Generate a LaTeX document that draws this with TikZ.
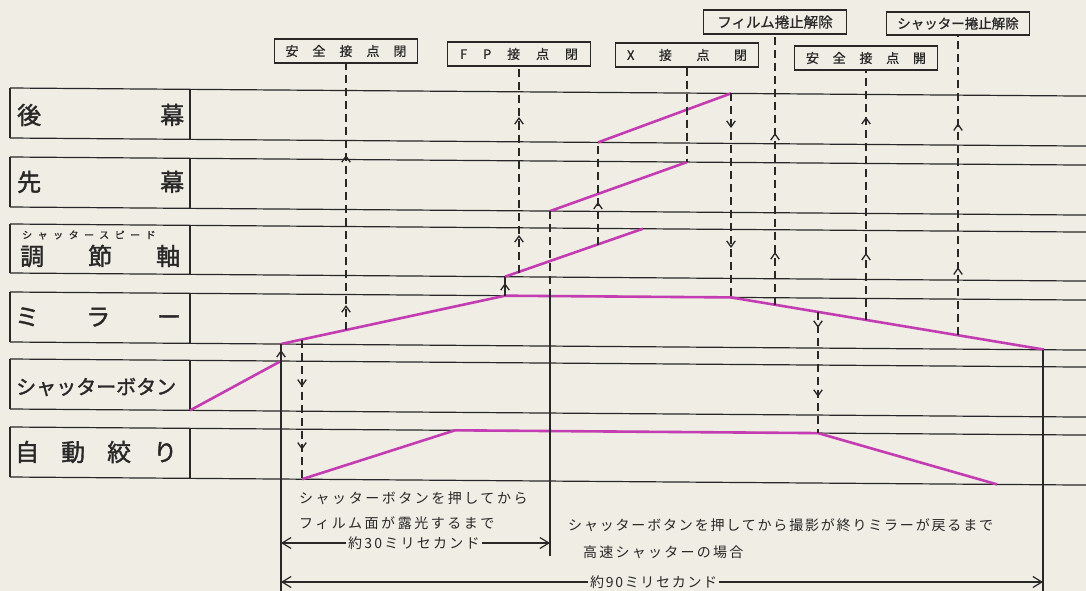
\documentclass[tikz,border=0pt]{standalone}
\usepackage{fontspec}
\setmainfont{Noto Sans CJK JP}
\newfontfamily\labfont[FakeBold=1.6]{Noto Sans CJK JP}
\newfontfamily\boxfont[FakeBold=0.8]{Noto Sans CJK JP}
\usetikzlibrary{arrows.meta,decorations.markings}
\definecolor{paper}{RGB}{240,237,229}
\definecolor{ink}{RGB}{40,40,40}
\definecolor{mag}{RGB}{196,60,178}
\tikzset{
  rule/.style={ink, line width=1.2pt},
  magline/.style={mag, line width=2.6pt, line join=round},
  dashline/.style={ink, line width=1.3pt, dash pattern=on 8pt off 5pt},
  solidv/.style={ink, line width=1.2pt},
  barb/.tip={Straight Barb[length=6pt,width=8.5pt,line width=1.3pt]},
  arrat/.style={postaction={decorate,decoration={markings,mark=at position #1 with {\arrow{barb}}}}},
  dimarrow/.style={ink, line width=1.2pt, -{Straight Barb[length=9pt,width=11pt,line width=1.2pt]}},
  topbox/.style={draw=ink, line width=1.3pt, minimum width=143pt, minimum height=24pt, inner sep=0pt, text=ink, font=\boxfont\fontsize{13}{13}\selectfont},
  lab/.style={anchor=west, inner sep=0pt, text=ink, font=\labfont\fontsize{24}{24}\selectfont},
  btext/.style={anchor=west, inner sep=0pt, text=ink, font=\fontsize{14}{14}\selectfont},
}
\begin{document}
\begin{tikzpicture}[x=1pt,y=-1pt]
\fill[paper] (0,0) rectangle (1086,591);
\useasboundingbox (0,0) rectangle (1086,591);

% rows
\foreach \t/\b in {88/138,157/207,224/273,292/342,359/409,427/477}{
  \draw[rule] (10,\t) -- (1086,\t+8.07);
  \draw[rule] (10,\b) -- (1086,\b+8.07);
  \draw[rule] (10,\t) -- (10,\b);
  \draw[rule] (190,\t+1.35) -- (190,\b+1.35);
}

% row labels
\node[lab] (L1) at (17,115) {\makebox[167pt]{後\hfill 幕}};
\node[lab] (L2) at (17,182) {\makebox[167pt]{先\hfill 幕}};
\node[anchor=west, inner sep=0pt, text=ink, font=\boxfont\fontsize{10}{10}\selectfont] (L3r) at (22,235) {\addfontfeature{LetterSpace=55}シャッタースピード};
\node[lab] (L3) at (20,256) {\makebox[160pt]{調\hfill 節\hfill 軸}};
\node[lab] (L4) at (15,317) {\makebox[166pt]{ミ\hfill ラ\hfill ー}};
\node[lab, font=\labfont\fontsize{20}{20}\selectfont] (L5) at (16,387) {シャッターボタン};
\node[lab] (L6) at (15,452) {\makebox[162pt]{自\hfill 動\hfill 絞\hfill り}};

% top boxes
\node[topbox] (B1) at (346,51) {\makebox[121pt]{安\hfill 全\hfill 接\hfill 点\hfill 閉}};
\node[topbox] (B2) at (519,54) {\makebox[118pt]{F\hfill P\hfill 接\hfill 点\hfill 閉}};
\node[topbox] (B3) at (687,55) {\makebox[120pt]{X\hfill 接\hfill 点\hfill 閉}};
\node[topbox, font=\boxfont\fontsize{14.5}{14.5}\selectfont] (B4) at (775,22) {フィルム捲止解除};
\node[topbox] (B5) at (866,58) {\makebox[120pt]{安\hfill 全\hfill 接\hfill 点\hfill 開}};
\node[topbox, font=\boxfont\fontsize{13.5}{13.5}\selectfont, minimum height=23pt] (B6) at (958,23.5) {シャッター捲止解除};

% magenta curves
\coordinate (sb0) at (190,410.4); \coordinate (sb1) at (281,361.0);
\coordinate (m0) at (281,344.0); \coordinate (m1) at (505,295.7);
\coordinate (m2) at (731,297.4); \coordinate (m3) at (1044,349.6);
\coordinate (a0) at (302,479.2); \coordinate (a1) at (455,430.3);
\coordinate (a2) at (818,433.1); \coordinate (a3) at (997,484.4);
\coordinate (s0) at (505,276.7); \coordinate (s1) at (643,228.7);
\coordinate (f0) at (550,211.1); \coordinate (f1) at (687,162.1);
\coordinate (r0) at (598,142.4); \coordinate (r1) at (731,93.4);

\draw[magline] (sb0) -- (sb1);
\draw[magline] (m0) -- (m1) -- (m2) -- (m3);
\draw[magline] (a0) -- (a1) -- (a2) -- (a3);
\draw[magline] (s0) -- (s1);
\draw[magline] (f0) -- (f1);
\draw[magline] (r0) -- (r1);

% points on curves for dashed lines
\coordinate (d1) at (346,330.1);
\coordinate (d2) at (519,272.5);
\coordinate (v2top) at (550,296.1);
\coordinate (d4) at (598,244.9);
\coordinate (d7) at (775,304.7);
\coordinate (d8) at (866,319.9);
\coordinate (d9) at (958,335.3);
\coordinate (d10) at (818,311.9);
\coordinate (d11) at (302,339.7);

% dashed signal lines
\draw[dashline, arrat=25pt, arrat=175pt] (d1) -- (B1.south);
\draw[dashline, arrat=37.5pt, arrat=155.5pt] (d2) -- (B2.south);
\draw[dashline] (f0) -- (v2top);
\draw[dashline, arrat=43pt] (d4) -- (r0);
\draw[dashline] (B3.south) -- (f1);
\draw[dashline, arrat=34.6pt, arrat=154.6pt] (r1) -- (m2);
\draw[dashline, arrat=52.7pt, arrat=171.7pt] (d7) -- (B4.south);
\draw[dashline, arrat=67pt, arrat=203pt] (d8) -- (B5.south);
\draw[dashline, arrat=68pt, arrat=212pt] (d9) -- (B6.south);
\draw[dashline, arrat=16pt, arrat=85pt] (d10) -- (a2);
\draw[dashline, arrat=47pt, arrat=110pt] (d11) -- (a0);

% short solid arrows
\draw[solidv, arrat=12.7pt] (m1) -- (s0);
\draw[solidv, arrat=11pt] (sb1) -- (m0);

% solid verticals
\coordinate (v1bot) at (281,591);
\coordinate (v2bot) at (550,556);
\coordinate (v3top) at (1043,349.5);
\coordinate (v3bot) at (1043,591);
\draw[solidv] (sb1) -- (v1bot);
\draw[solidv] (v2top) -- (v2bot);
\draw[solidv] (v3top) -- (v3bot);

% bottom texts
\node[btext] (T1) at (299,498) {\addfontfeature{LetterSpace=18}シャッターボタンを押してから};
\node[btext] (T2) at (299,523) {\addfontfeature{LetterSpace=18}フィルム面が露光するまで};
\node[btext] (T3) at (568,525) {\addfontfeature{LetterSpace=13}シャッターボタンを押してから撮影が終りミラーが戻るまで};
\node[btext] (T4) at (583,552) {\addfontfeature{LetterSpace=16}高速シャッターの場合};

% dimensions
\node[btext, inner xsep=2pt] (t30) at (346,543) {\addfontfeature{LetterSpace=16}約30ミリセカンド};
\draw[dimarrow] (t30.west) -- (t30.west -| v1bot);
\draw[dimarrow] (t30.east) -- (t30.east -| v2bot);
\node[btext, inner xsep=2pt] (t90) at (588,582) {\addfontfeature{LetterSpace=12}約90ミリセカンド};
\draw[dimarrow] (t90.west) -- (t90.west -| v1bot);
\draw[dimarrow] (t90.east) -- (t90.east -| v3bot);
\end{tikzpicture}
\end{document}
